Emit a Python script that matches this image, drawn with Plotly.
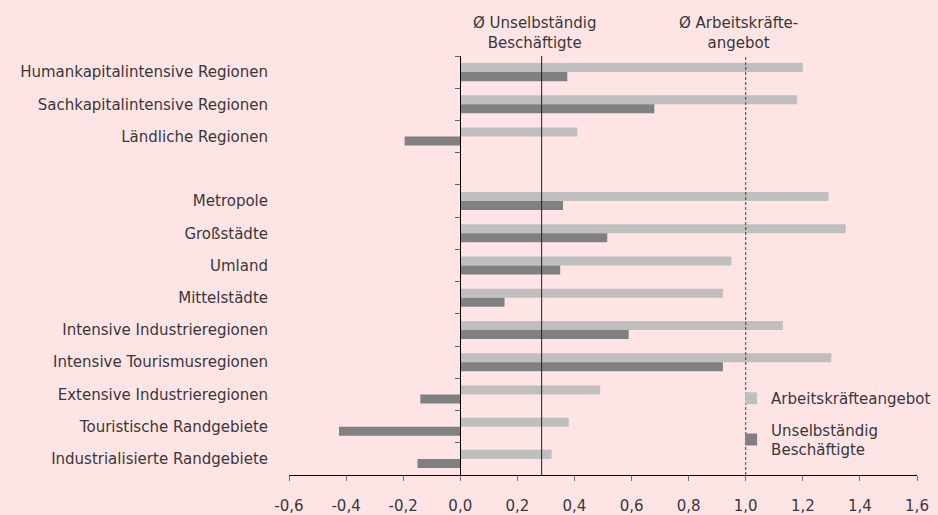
import plotly.graph_objects as go

categories = [
    "Humankapitalintensive Regionen",
    "Sachkapitalintensive Regionen",
    "Ländliche Regionen",
    " ",
    "Metropole",
    "Großstädte",
    "Umland",
    "Mittelstädte",
    "Intensive Industrieregionen",
    "Intensive Tourismusregionen",
    "Extensive Industrieregionen",
    "Touristische Randgebiete",
    "Industrialisierte Randgebiete",
]
arbeitskraefteangebot = [1.20, 1.18, 0.41, None, 1.29, 1.35, 0.95, 0.92, 1.13, 1.30, 0.49, 0.38, 0.32]
unselbstaendig = [0.375, 0.68, -0.195, None, 0.36, 0.515, 0.35, 0.155, 0.59, 0.92, -0.14, -0.425, -0.15]
series_names = ["Arbeitskräfteangebot", "Unselbständig<br>Beschäftigte"]
avg_values = [0.285, 1.0]
avg_labels = ["Ø Unselbständig<br>Beschäftigte", "Ø Arbeitskräfte-<br>angebot"]
x_tick_values = [-0.6, -0.4, -0.2, 0.0, 0.2, 0.4, 0.6, 0.8, 1.0, 1.2, 1.4, 1.6]
x_tick_labels = ["-0,6", "-0,4", "-0,2", "0,0", "0,2", "0,4", "0,6", "0,8", "1,0", "1,2", "1,4", "1,6"]
x_range = [-0.6, 1.6]
y_range = [len(categories) - 0.5, -0.5]

FONT = "DejaVu Sans"
TXT = "#383838"
BG = "#FFE4E6"
FS = 15

fig = go.Figure()
fig.add_trace(go.Bar(x=arbeitskraefteangebot, y=categories, orientation="h",
                     name=series_names[0], marker=dict(color="#BFBFBF", line=dict(width=0)),
                     legendgroup="a"))
fig.add_trace(go.Bar(x=unselbstaendig, y=categories, orientation="h",
                     name=series_names[1], marker=dict(color="#808080", line=dict(width=0)),
                     legendgroup="b"))
# helper trace carrying the category axis drawn at x = 0
fig.add_trace(go.Scatter(x=[None] * len(categories), y=categories, yaxis="y2",
                         mode="markers", showlegend=False, hoverinfo="skip"))

for v, dash in zip(avg_values, ["solid", "3px,2px"]):
    fig.add_shape(type="line", xref="x", yref="paper", x0=v, x1=v, y0=0, y1=1,
                  line=dict(color="#202020" if dash == "solid" else "#404040", width=1, dash=dash))
for v, t in zip(avg_values, avg_labels):
    fig.add_annotation(x=v, xref="x", y=1, yref="paper", yanchor="bottom", yshift=2,
                       xshift=-7, text=t, showarrow=False,
                       font=dict(family=FONT, size=FS, color=TXT), align="center")

fig.update_layout(
    width=938, height=515,
    margin=dict(l=289, r=21, t=56, b=40, autoexpand=False),
    paper_bgcolor=BG, plot_bgcolor=BG,
    barmode="group", bargap=0.44, bargroupgap=0,
    font=dict(family=FONT, size=FS, color=TXT),
    showlegend=True,
    legend=dict(x=0.704, y=0.222, xanchor="left", yanchor="top",
                bgcolor="rgba(0,0,0,0)", traceorder="grouped", tracegroupgap=9,
                itemwidth=30, font=dict(family=FONT, size=FS, color=TXT)),
    xaxis=dict(range=x_range, tickvals=x_tick_values, ticktext=x_tick_labels,
               showgrid=False, zeroline=False, automargin=False,
               showline=True, linecolor="#000000", linewidth=1,
               ticks="outside", ticklen=5, tickcolor="#707070",
               ticklabelstandoff=12),
    yaxis=dict(type="category", categoryarray=categories, range=y_range, autorange=False,
               showgrid=False, zeroline=False, showline=False, ticks="", automargin=False,
               ticklabelstandoff=20),
    yaxis2=dict(type="category", overlaying="y", matches="y", anchor="free",
                position=(0 - x_range[0]) / (x_range[1] - x_range[0]), side="left",
                showticklabels=False, showgrid=False, zeroline=False, automargin=False,
                showline=True, linecolor="#000000", linewidth=1,
                ticks="outside", ticklen=5, tickcolor="#606060", tickson="boundaries"),
)

fig.write_html("out.html", config={"displayModeBar": False},
               post_script="document.body.style.margin='0';")
